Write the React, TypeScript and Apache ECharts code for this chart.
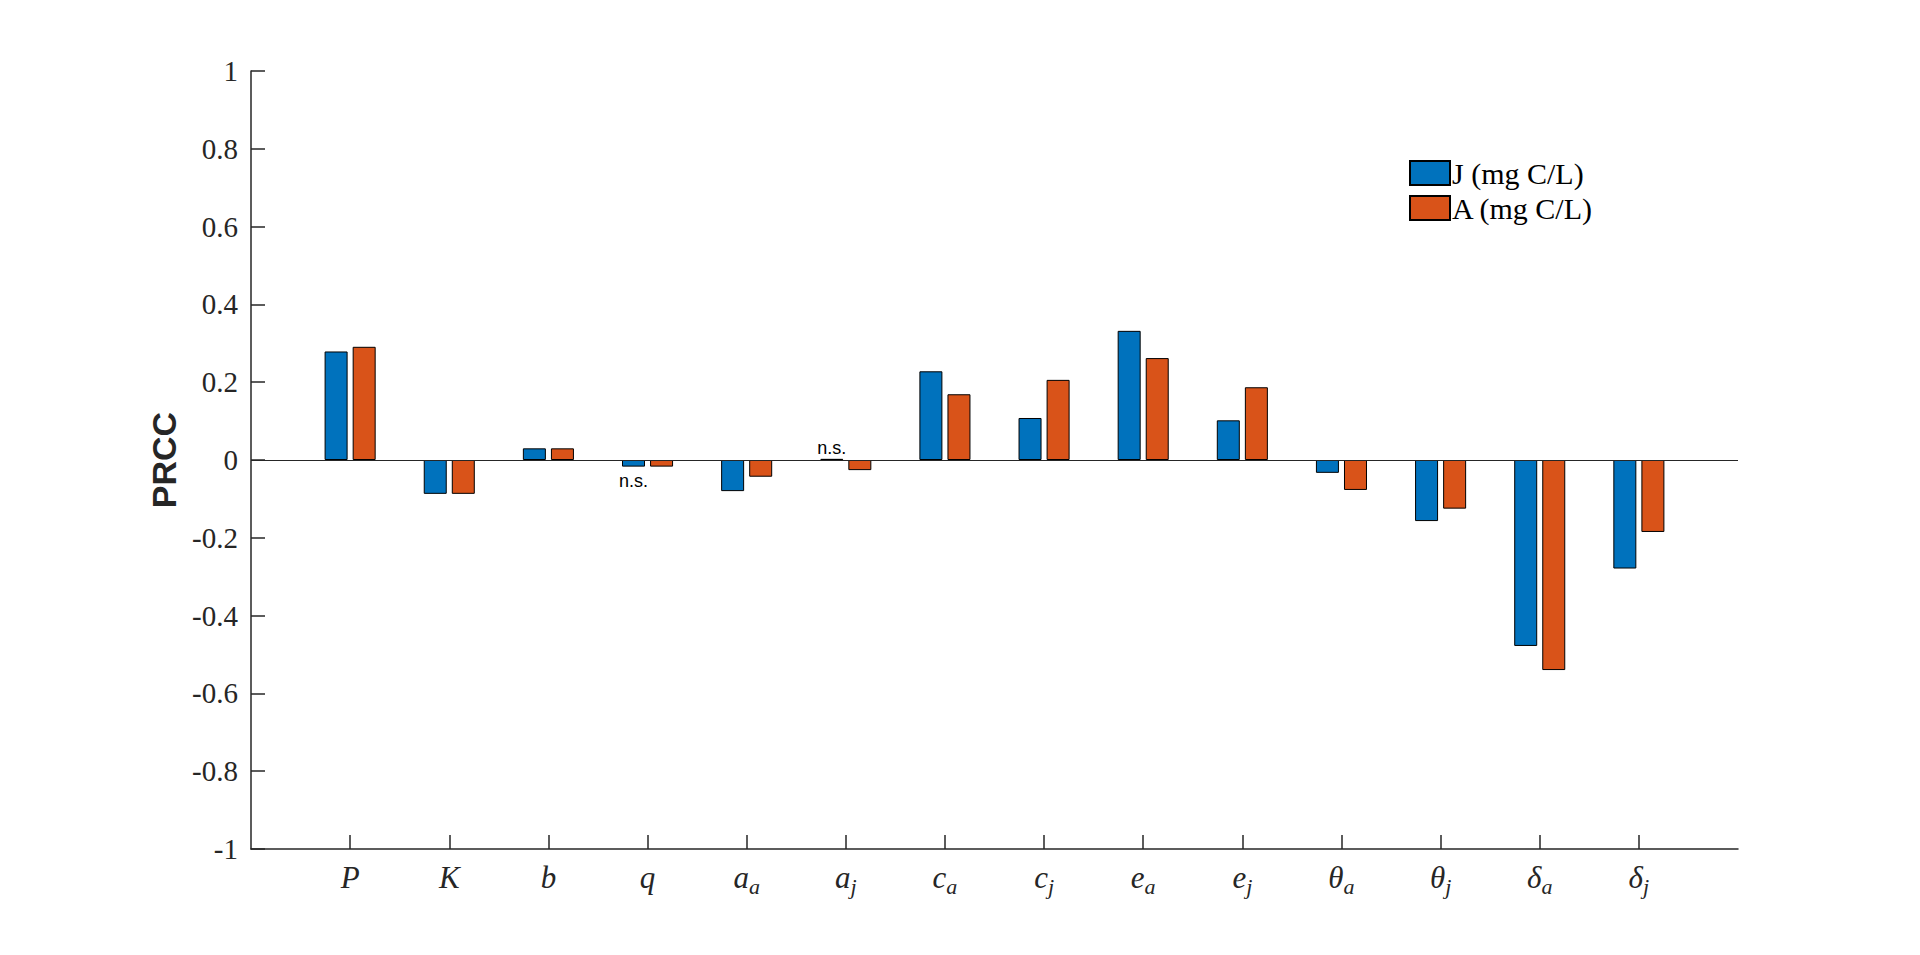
import React, { useEffect, useRef } from 'react';
import * as echarts from 'echarts';

// Parameter names (base_sub)
const categories = ['P', 'K', 'b', 'q', 'a_a', 'a_j', 'c_a', 'c_j', 'e_a', 'e_j', 'θ_a', 'θ_j', 'δ_a', 'δ_j'];
const seriesNames = ['J (mg C/L)', 'A (mg C/L)'];
const juvenileValues = [0.279, -0.087, 0.030, -0.017, -0.080, 0.003, 0.228, 0.108, 0.332, 0.102, -0.033, -0.157, -0.478, -0.279];
const adultValues = [0.291, -0.087, 0.030, -0.017, -0.043, -0.026, 0.169, 0.206, 0.262, 0.187, -0.077, -0.125, -0.540, -0.185];
// non-significant markers: [category index, position]
const nsJuvenile: [number, 'top' | 'bottom'][] = [[3, 'bottom'], [5, 'top']];
const yMin = -1;
const yMax = 1;
const yInterval = 0.2;

const AXIS_COLOR = '#262626';
const SERIF = '"Liberation Serif", "DejaVu Serif", serif';
const SANS = '"Liberation Sans", Arial, sans-serif';

export default function App() {
  const ref = useRef<HTMLDivElement>(null);

  useEffect(() => {
    if (!ref.current) return;
    const chart = echarts.init(ref.current, undefined, { renderer: 'svg' });

    const axisCats = ['', ...categories, ''];
    const pad = (arr: any[]) => [null, ...arr, null];

    const jData = pad(
      juvenileValues.map((v, i) => {
        const ns = nsJuvenile.find((n) => n[0] === i);
        if (!ns) return v;
        return {
          value: v,
          label: {
            show: true,
            position: ns[1],
            formatter: 'n.s.',
            fontFamily: SANS,
            fontSize: 18,
            color: '#000',
            distance: ns[1] === 'top' ? 2 : 5,
          },
        };
      })
    );
    const aData = pad(adultValues);

    const option: any = {
      animation: false,
      backgroundColor: '#fff',
      grid: { left: 251, right: 182, top: 71, bottom: 106, containLabel: false },
      legend: {
        data: seriesNames,
        orient: 'vertical',
        left: 1409,
        top: 158,
        padding: 0,
        icon: 'rect',
        itemWidth: 40,
        itemHeight: 24,
        itemGap: 5,
        selectedMode: false,
        textStyle: { fontFamily: SERIF, fontSize: 30, color: '#000', padding: [0, 0, 0, -3] },
      },
      xAxis: {
        type: 'category',
        data: axisCats,
        boundaryGap: false,
        axisLine: { show: true, onZero: false, lineStyle: { color: AXIS_COLOR, width: 1.5 } },
        axisTick: {
          show: true,
          inside: true,
          length: 14,
          interval: (i: number) => i > 0 && i < axisCats.length - 1,
          lineStyle: { color: AXIS_COLOR, width: 1.5 },
        },
        axisLabel: {
          interval: 0,
          margin: 8,
          formatter: (v: string) => {
            if (!v) return '';
            const [base, sub] = v.split('_');
            return sub ? `{m|${base}}{s|${sub}}` : `{m|${base}}`;
          },
          rich: {
            m: {
              fontFamily: SERIF,
              fontStyle: 'italic',
              fontSize: 31,
              color: AXIS_COLOR,
              lineHeight: 40,
              verticalAlign: 'middle',
            },
            s: {
              fontFamily: SERIF,
              fontStyle: 'italic',
              fontSize: 22,
              color: AXIS_COLOR,
              lineHeight: 24,
              verticalAlign: 'bottom',
            },
          },
        },
        splitLine: { show: false },
      },
      yAxis: {
        type: 'value',
        min: yMin,
        max: yMax,
        interval: yInterval,
        name: 'PRCC',
        nameLocation: 'middle',
        nameRotate: 90,
        nameGap: 69,
        nameTextStyle: { fontFamily: SANS, fontWeight: 'bold', fontSize: 34, color: AXIS_COLOR },
        axisLine: { show: true, lineStyle: { color: AXIS_COLOR, width: 1.5 } },
        axisTick: { show: true, inside: true, length: 14, lineStyle: { color: AXIS_COLOR, width: 1.5 } },
        axisLabel: {
          margin: 13,
          fontFamily: SERIF,
          fontSize: 29,
          color: AXIS_COLOR,
          formatter: (v: number) => String(Math.round(v * 10) / 10),
        },
        splitLine: { show: false },
      },
      series: [
        {
          name: seriesNames[0],
          type: 'bar',
          data: jData,
          barWidth: 23,
          barGap: '22%',
          itemStyle: { color: '#0072BD', borderColor: '#000', borderWidth: 1 },
          markLine: {
            silent: true,
            symbol: 'none',
            label: { show: false },
            lineStyle: { color: AXIS_COLOR, width: 1, type: 'solid' },
            data: [{ yAxis: 0 }],
          },
          z: 2,
        },
        {
          name: seriesNames[1],
          type: 'bar',
          data: aData,
          barWidth: 23,
          barGap: '22%',
          itemStyle: { color: '#D95319', borderColor: '#000', borderWidth: 1 },
          z: 2,
        },
      ],
    };

    chart.setOption(option);
    return () => chart.dispose();
  }, []);

  return (
    <div
      ref={ref}
      style={{ position: 'fixed', left: 0, top: 0, width: 1920, height: 955, background: '#fff' }}
    />
  );
}
